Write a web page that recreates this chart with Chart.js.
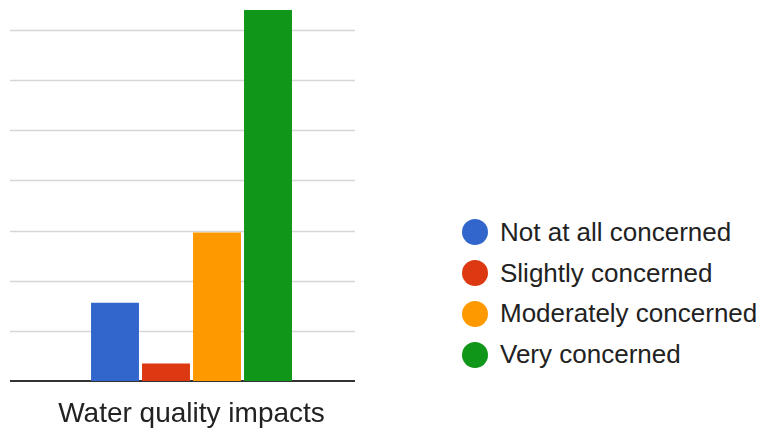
<!DOCTYPE html>
<html>
<head>
<meta charset="utf-8">
<script src="https://cdn.jsdelivr.net/npm/chart.js@4.4.0/dist/chart.umd.min.js"></script>
<style>
  html, body { margin: 0; padding: 0; background: #fff; }
  body { width: 761px; height: 431px; position: relative; overflow: hidden; font-family: "Liberation Sans", Arial, sans-serif; }
  #chart-box { position: absolute; left: 0; top: 0; width: 373px; height: 431px; }
  #legend { position: absolute; left: 462px; top: 212px; }
  .legend-item { display: flex; align-items: center; height: 40.8px; font-size: 26px; color: #222; white-space: nowrap; }
  .legend-dot { width: 26px; height: 26px; border-radius: 50%; margin-right: 12px; flex: none; }
</style>
</head>
<body>
<div id="chart-box"><canvas id="concernChart"></canvas></div>
<div id="legend"></div>
<script>
// survey responses, one bar per answer
const categories = ['Water quality impacts'];
const responses = ['Not at all concerned', 'Slightly concerned', 'Moderately concerned', 'Very concerned'];
const values = [1.56, 0.35, 2.96, 7.4];
const colors = ['#3366cc', '#dc3912', '#ff9900', '#109618'];
const gridSteps = [1, 2, 3, 4, 5, 6, 7];

// light horizontal gridlines, stopping short of the right edge
const gridPlugin = {
    id: 'shortGrid',
    beforeDatasetsDraw(chart) {
        const { ctx, chartArea, scales } = chart;
        ctx.save();
        ctx.strokeStyle = '#d6d6d6';
        ctx.lineWidth = 1.5;
        gridSteps.forEach(v => {
            const y = Math.round(scales.y.getPixelForValue(v)) + 0.5;
            ctx.beginPath();
            ctx.moveTo(chartArea.left, y);
            ctx.lineTo(chartArea.right - 18, y);
            ctx.stroke();
        });
        // dark baseline
        const y0 = scales.y.getPixelForValue(0);
        ctx.strokeStyle = '#333';
        ctx.lineWidth = 2;
        ctx.beginPath();
        ctx.moveTo(chartArea.left, y0);
        ctx.lineTo(chartArea.right - 18, y0);
        ctx.stroke();
        ctx.restore();
    }
};

new Chart(document.getElementById('concernChart').getContext('2d'), {
    type: 'bar',
    data: {
        labels: categories,
        datasets: responses.map((name, i) => ({
            label: name,
            data: [values[i]],
            backgroundColor: colors[i],
            borderWidth: 0,
            categoryPercentage: 0.562,
            barPercentage: 0.94
        }))
    },
    options: {
        responsive: true,
        maintainAspectRatio: false,
        animation: false,
        layout: { padding: { left: 10, top: 10, right: 0, bottom: 0 } },
        plugins: { legend: { display: false }, tooltip: { enabled: false } },
        scales: {
            x: {
                grid: { display: false, drawTicks: false },
                border: { display: false },
                ticks: {
                    color: '#222',
                    padding: 18,
                    font: { family: '"Liberation Sans", Arial, sans-serif', size: 28, lineHeight: 1.1 }
                },
                afterFit(scale) { scale.height = 50; }
            },
            y: { display: false, min: 0, max: 7.4 }
        }
    },
    plugins: [gridPlugin]
});

// legend on the right
const legend = document.getElementById('legend');
responses.forEach((name, i) => {
    const item = document.createElement('div');
    item.className = 'legend-item';
    item.innerHTML = `<span class="legend-dot" style="background:${colors[i]}"></span><span>${name}</span>`;
    legend.appendChild(item);
});
</script>
</body>
</html>
